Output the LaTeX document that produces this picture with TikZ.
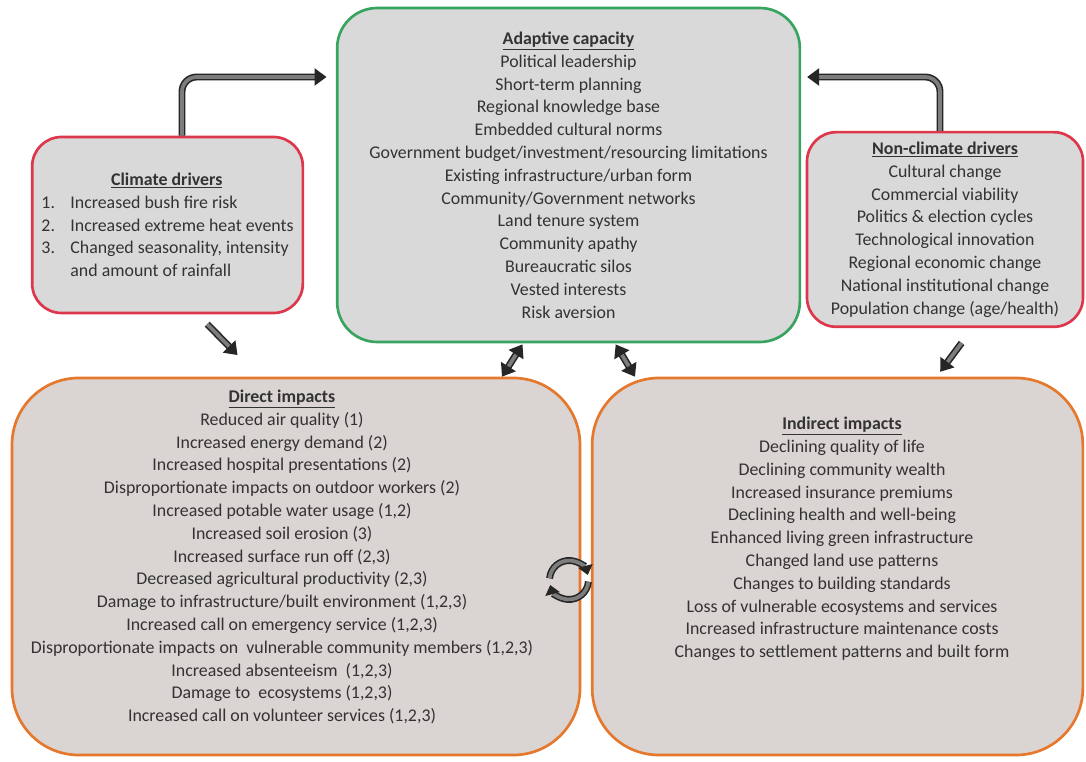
\documentclass[tikz,border=0pt]{standalone}
\usepackage{fontspec}
\setmainfont{Carlito}
\usetikzlibrary{arrows.meta}
\definecolor{capgreen}{RGB}{55,165,95}
\definecolor{drvred}{RGB}{222,55,75}
\definecolor{imporange}{RGB}{230,120,45}
\definecolor{boxgray}{RGB}{217,217,217}
\definecolor{impgray}{RGB}{218,212,210}
\definecolor{arrowgray}{RGB}{125,125,125}
\begin{document}
\begin{tikzpicture}[x=0.75pt, y=-0.75pt,
    every node/.style={font=\fontsize{13.4}{17.1}\selectfont, text=black!80},
    capbox/.style={draw=capgreen, line width=2pt, fill=boxgray, rounded corners=30pt, align=center},
    drvbox/.style={draw=drvred, line width=2pt, fill=boxgray, rounded corners=22pt},
    impbox/.style={draw=imporange, line width=2pt, fill=impgray, rounded corners=50pt},
    fatarrow/.style={draw=black!85, double=arrowgray, line width=1.2pt, double distance=2.8pt,
        >={Triangle[length=9pt,width=13pt]}, ->}]
    \useasboundingbox (0,0) rectangle (1086,762);

    % Draw the boxes
    \node[capbox, minimum width=347pt, minimum height=250.5pt] (adapt) at (568.5,175)
        {\underline{\textbf{Adaptive}} \underline{\textbf{capacity}}\\
         Political leadership\\
         Short-term planning\\
         Regional knowledge base\\
         Embedded cultural norms\\
         Government budget/investment/resourcing limitations\\
         Existing infrastructure/urban form\\
         Community/Government networks\\
         Land tenure system\\
         Community apathy\\
         Bureaucratic silos\\
         Vested interests\\
         Risk aversion};
    \node[drvbox, minimum width=203pt, minimum height=132pt, align=left] (climate) at (167.5,225)
        {\makebox[188pt][c]{\underline{\textbf{Climate drivers}}}\\
         \makebox[21.7pt][l]{1.}Increased bush fire risk\\
         \makebox[21.7pt][l]{2.}Increased extreme heat events\\
         \makebox[21.7pt][l]{3.}Changed seasonality, intensity\\
         \hspace*{21.7pt}and amount of rainfall};
    \node[drvbox, minimum width=207pt, minimum height=146pt, align=center] (nonclim) at (945,229.5)
        {\underline{\textbf{Non-climate drivers}}\\
         Cultural change\\
         Commercial viability\\
         Politics \& election cycles\\
         Technological innovation\\
         Regional economic change\\
         National institutional change\\
         Population change (age/health)};
    \node[impbox, minimum width=426pt, minimum height=282.75pt] (direct) at (296,566.5) {};
    \node[impbox, minimum width=368pt, minimum height=282.75pt] (indirect) at (837.5,566.5) {};

    % Box texts of the impacts
    \node[align=center] (directtxt) at ([xshift=-10.5pt, yshift=7pt]direct.center)
        {\underline{\textbf{Direct impacts}}\\
         Reduced air quality (1)\\
         Increased energy demand (2)\\
         Increased hospital presentations (2)\\
         Disproportionate impacts on outdoor workers (2)\\
         Increased potable water usage (1,2)\\
         Increased soil erosion (3)\\
         Increased surface run off (2,3)\\
         Decreased agricultural productivity (2,3)\\
         Damage to infrastructure/built environment (1,2,3)\\
         Increased call on emergency service (1,2,3)\\
         Disproportionate impacts on\ \ vulnerable community members (1,2,3)\\
         Increased absenteeism\ \ (1,2,3)\\
         Damage to\ \ ecosystems (1,2,3)\\
         Increased call on volunteer services (1,2,3)};
    \node[align=center] (indirecttxt) at ([xshift=3.4pt, yshift=20.6pt]indirect.center)
        {\underline{\textbf{Indirect impacts}}\\
         Declining quality of life\\
         Declining community wealth\\
         Increased insurance premiums\\
         Declining health and well-being\\
         Enhanced living green infrastructure\\
         Changed land use patterns\\
         Changes to building standards\\
         Loss of vulnerable ecosystems and services\\
         Increased infrastructure maintenance costs\\
         Changes to settlement patterns and built form};

    % Drivers feed adaptive capacity
    \coordinate (lbend) at (182,77);
    \coordinate (rbend) at (940,77);
    \draw[fatarrow, rounded corners=11pt, shorten >=7pt] (climate.north -| lbend) |- (adapt.west |- lbend);
    \draw[fatarrow, rounded corners=11pt, shorten >=4.5pt] (nonclim.north -| rbend) |- (adapt.east |- rbend);

    % Drivers lead to impacts
    \draw[fatarrow, shorten <=10.3pt, shorten >=22.7pt] ([xshift=22.6pt]climate.south) -- ([xshift=-28pt]direct.north);
    \draw[fatarrow, shorten <=13.8pt, shorten >=4.6pt] ([xshift=20.7pt]nonclim.south) -- ([xshift=74.3pt]indirect.north);

    % Adaptive capacity and impacts
    \draw[fatarrow, <->, shorten <=1pt] ([xshift=-34pt]adapt.south) -- ([xshift=154.5pt]direct.north);
    \draw[fatarrow, <->, shorten <=1pt] ([xshift=34.9pt]adapt.south) -- ([xshift=-151.9pt]indirect.north);

    % Cycle between the impacts
    \coordinate (loopc) at (569,580);
    \draw[fatarrow, >={Triangle[length=7pt,width=11pt]}] ([shift={(175:14.6pt)}]loopc) arc[start angle=175, end angle=15, radius=14.6pt];
    \draw[fatarrow, >={Triangle[length=7pt,width=11pt]}] ([shift={(-5:14.6pt)}]loopc) arc[start angle=-5, end angle=-165, radius=14.6pt];
\end{tikzpicture}
\end{document}
